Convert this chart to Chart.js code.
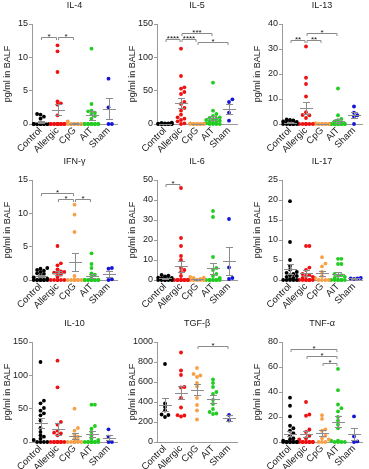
<!DOCTYPE html>
<html><head><meta charset="utf-8">
<script src="https://cdn.jsdelivr.net/npm/chart.js@4"></script>
<style>
html,body{margin:0;padding:0;background:#fff;}
body{width:369px;height:469px;overflow:hidden;position:relative;}
canvas{position:absolute;}
</style></head>
<body>
<script>
// ---------- data ----------
const categories = ['Control', 'Allergic', 'CpG', 'AIT', 'Sham'];
const panelTitles = ['IL-4', 'IL-5', 'IL-13', 'IFN-γ', 'IL-6', 'IL-17', 'IL-10', 'TGF-β', 'TNF-α'];
const yMaxes = [15, 150, 40, 15, 50, 25, 150, 1000, 80];
const ySteps = [5, 50, 10, 5, 10, 5, 50, 200, 20];
const yAxisTitle = 'pg/ml in BALF';

const il4 = [
  [1.5,1.4,1.1,0.8,0,0,0,0,0,0,0,0,0,0],
  [11.8,10.9,7.8,3.4,3.1,2.9,1.3,0,0,0,0,0,0,0,0,0,0,0,0],
  [0.4,0,0,0,0,0,0,0,0,0],
  [11.3,3.0,2.0,1.9,1.7,1.5,1.2,0.8,0,0,0,0,0,0,0,0,0,0],
  [6.8,2.5,0,0]
];
const il5 = [
  [2,1.5,1,0.8,0.5,0.3,0,0,0,0,0,0,0,0],
  [113,72,55,53,48,45,33,30,24,20,14,10,8,6,4,1,0],
  [1,0.5,0,0,0,0,0,0,0,0],
  [62,20,15,12,10,9,8,7,6,5,4,3,2,1,0,0,0,0],
  [37,33,17,5]
];
const il13 = [
  [1.8,1.6,1.4,1.2,1.0,0.8,0.5,0,0,0,0,0,0,0],
  [31,18.5,16,11,4.7,3.6,3.5,2.4,0,0,0,0,0,0],
  [0.3,0,0,0,0,0,0,0,0,0],
  [14.2,3.5,2,1.5,1,0.5,0,0,0,0,0,0,0,0,0,0,0],
  [7,4.5,3.5,3,0]
];
const ifng = [
  [1.8,1.7,1.5,1.4,1.2,1.0,0.9,0.6,0.4,0.2,0,0,0,0,0,0,0,0],
  [5.1,2.5,2.2,1.6,1.3,1.2,1.1,1.0,0.8,0.5,0,0,0,0,0,0],
  [11.3,9.8,7.2,0.6,0,0,0,0,0,0,0],
  [4.0,2.4,1.8,1.0,0.8,0.5,0,0,0,0,0,0,0,0,0,0],
  [1.8,1.7,0.1,0]
];
const il6 = [
  [2.5,2.2,1.8,1.5,1.2,1.0,0.8,0.5,0,0,0,0,0,0],
  [46,21,17,12,10,6,5,4,2,0,0,0,0,0,0,0,0,0],
  [1.5,1.2,1.0,0.6,0,0,0,0,0,0],
  [34.5,31.5,11.5,6,5,3,2,1,0,0,0,0,0,0,0,0],
  [30.5,6.3,1,0.5]
];
const il17 = [
  [19.7,9.5,5,3.5,2.6,2,1.8,1.5,1.2,1,0.8,0.5,0.3,0,0,0,0,0],
  [8.5,8.5,3.1,2.5,1.5,1.2,1,0.8,0.5,0,0,0,0,0,0,0],
  [5.7,4.1,3.4,2.1,1,0.5,0,0,0,0],
  [5.3,5.3,4,4,1.5,1.2,1,0.8,0.5,0,0,0,0,0,0,0],
  [0.5,0.4,0.4,0.3]
];
const il10 = [
  [120,62,58,51,47,43,40,32,21,15,10,8,5,3,0,0,0,0],
  [122,82,30,26,17,14,13,10,0,0,0,0,0,0,0,0],
  [50,21,17,11,8,5,3,0,0,0,0,0,0],
  [56,56,24,20,15,10,5,3,0,0,0,0,0,0,0,0],
  [19,8,0,0]
];
const tgfb = [
  [780,385,350,315,275,270,250],
  [895,715,670,550,545,440,345,268,265,255],
  [740,680,665,650,590,555,440,370,315,225],
  [625,590,550,500,480,420,380,330,300,285,280],
  [270,215]
];
const tnfa = [
  [35.5,29,20.5,13,11,9,7,5,3,2,1,0,0,0,0,0,0,0,0,0],
  [32,22,21,10,8,5,3,2,0,0,0,0,0,0,0,0,0],
  [21.5,18.5,10,9,5,3,2,0,0,0],
  [58.5,41.5,30,27,24.5,20,17,14,11,1,1,0,0,0,0],
  [20.5,4.5,0.5,0]
];

// significance brackets: [fromGroup, toGroup, yValue, label]
const sigIL4  = [[0,1,13,'*'],[1,2,13,'*']];
const sigIL5  = [[0,1,127,'****'],[1,2,127,'****'],[1,3,136,'***'],[2,4,123,'*']];
const sigIL13 = [[0,1,33.6,'**'],[1,2,33.6,'**'],[1,3,36.6,'*']];
const sigIFNG = [[0,2,13.0,'*'],[1,2,12.2,'*'],[2,3,12.2,'*']];
const sigIL6  = [[0,1,48,'*']];
const sigIL17 = [];
const sigIL10 = [];
const sigTGFB = [[2,4,960,'*']];
const sigTNFA = [[0,3,74,'*'],[1,3,69,'*'],[2,3,63.5,'*']];

const panelData = [il4, il5, il13, ifng, il6, il17, il10, tgfb, tnfa];
const panelSig = [sigIL4, sigIL5, sigIL13, sigIFNG, sigIL6, sigIL17, sigIL10, sigTGFB, sigTNFA];

// ---------- styles ----------
const groupColors = ['#000000', '#ee1111', '#f7a048', '#22cc22', '#1414d8'];
const FONT = "'Liberation Sans', Arial, sans-serif";
const TEXT = '#1a1a1a';
const AXIS = '#9a9a9a';
const STAT = '#8c8c8c';

const colLeft = [0, 122, 246], colWidth = [122, 122, 123];
const axisX = [32, 157, 282], plotW = [85, 80, 80];
const padL = [2, 5, 6];
const rowTop = [0, 156, 318];
const CH = 154;

function meanSem(a) {
  const n = a.length;
  const m = a.reduce((s, v) => s + v, 0) / n;
  const sd = Math.sqrt(a.reduce((s, v) => s + (v - m) * (v - m), 0) / (n - 1));
  return [m, sd / Math.sqrt(n)];
}

const statsPlugin = {
  id: 'stats',
  afterDatasetsDraw(chart, args, opts) {
    const ctx = chart.ctx, xs = chart.scales.x, ys = chart.scales.y;
    ctx.save();
    ctx.strokeStyle = STAT; ctx.lineWidth = 1;
    opts.groups.forEach((vals, g) => {
      const [m, se] = meanSem(vals);
      const cx = Math.round(xs.getPixelForValue(g)) + 0.5;
      const ym = Math.round(ys.getPixelForValue(m)) + 0.5;
      const yt = Math.round(ys.getPixelForValue(m + se)) + 0.5;
      const yb = Math.round(ys.getPixelForValue(Math.max(0, m - se))) + 0.5;
      ctx.beginPath();
      ctx.moveTo(cx - 6.5, ym); ctx.lineTo(cx + 6.5, ym);
      ctx.moveTo(cx, yt); ctx.lineTo(cx, yb);
      ctx.moveTo(cx - 3.5, yt); ctx.lineTo(cx + 3.5, yt);
      ctx.moveTo(cx - 3.5, yb); ctx.lineTo(cx + 3.5, yb);
      ctx.stroke();
    });
    // brackets
    ctx.strokeStyle = '#8a8a8a';
    ctx.fillStyle = '#111';
    ctx.font = '8px ' + FONT;
    ctx.textAlign = 'center';
    ctx.textBaseline = 'alphabetic';
    opts.sig.forEach(([a, b, y, lab]) => {
      const x1 = xs.getPixelForValue(a) + 1, x2 = xs.getPixelForValue(b) - 1;
      const py = Math.round(ys.getPixelForValue(y)) + 0.5;
      ctx.beginPath();
      ctx.moveTo(x1, py + 2.5); ctx.lineTo(x1, py); ctx.lineTo(x2, py); ctx.lineTo(x2, py + 2.5);
      ctx.stroke();
      ctx.fillText(lab, (x1 + x2) / 2, py + 1.5);
    });
    ctx.restore();
  }
};

function beeswarm(chart) {
  const xs = chart.scales.x, ys = chart.scales.y;
  const pxPerUnit = xs.getPixelForValue(1) - xs.getPixelForValue(0);
  const s = 3.4;
  chart.data.datasets.forEach((ds, g) => {
    const order = ds.data.map((p, i) => i).sort((i, j) => ds.data[i].y - ds.data[j].y);
    const placed = [];
    order.forEach(i => {
      const py = ys.getPixelForValue(ds.data[i].y);
      const coll = dx => placed.filter(p => Math.abs(p.dx - dx) < s * 0.95 && Math.abs(p.py - py) < s * 0.95).length;
      let best = null;
      for (const dx of [0, s, -s, 2 * s, -2 * s]) { if (coll(dx) === 0) { best = dx; break; } }
      if (best === null) {
        let bc = 1e9;
        for (const dx of [s / 2, -s / 2, 1.5 * s, -1.5 * s, 0, s, -s, 2 * s, -2 * s]) {
          const c = coll(dx); if (c < bc) { bc = c; best = dx; }
        }
      }
      placed.push({dx: best, py});
      ds.data[i].x = g + best / pxPerUnit;
    });
  });
  chart.update('none');
}

panelData.forEach((groups, idx) => {
  const col = idx % 3, row = Math.floor(idx / 3);
  const L = colLeft[col], W = colWidth[col];
  const cv = document.createElement('canvas');
  cv.width = W; cv.height = CH;
  cv.style.left = L + 'px'; cv.style.top = rowTop[row] + 'px';
  cv.style.width = W + 'px'; cv.style.height = CH + 'px';
  document.body.appendChild(cv);
  const axisLocal = axisX[col] - L;
  const padR = W - axisLocal - plotW[col];
  const chart = new Chart(cv, {
    type: 'scatter',
    data: {
      datasets: groups.map((vals, g) => ({
        data: vals.map(v => ({x: g, y: v})),
        backgroundColor: groupColors[g],
        borderWidth: 0,
        pointRadius: 1.9,
        pointHoverRadius: 1.9,
        clip: false
      }))
    },
    options: {
      responsive: false,
      animation: false,
      events: [],
      layout: {padding: {left: padL[col], right: padR, top: 0, bottom: 0}},
      plugins: {
        legend: {display: false},
        tooltip: {enabled: false},
        title: {display: true, text: panelTitles[idx], fullSize: false, color: TEXT,
                font: {family: FONT, size: 9, weight: 'normal'}, padding: {top: 0, bottom: 13.2}},
        stats: {groups: groups, sig: panelSig[idx]}
      },
      scales: {
        x: {
          type: 'linear', min: -0.5, max: 4.5,
          afterBuildTicks: s => { s.ticks = categories.map((c, i) => ({value: i})); },
          ticks: {callback: v => categories[v], minRotation: 45, maxRotation: 45, autoSkip: false,
                  font: {family: FONT, size: 9.5}, color: TEXT, padding: 1},
          grid: {display: false, drawTicks: false},
          border: {display: true, color: AXIS, width: 1},
          afterFit: s => { s.height = 30; }
        },
        y: {
          min: 0, max: yMaxes[idx],
          ticks: {stepSize: ySteps[idx], callback: v => String(v), font: {family: FONT, size: 9}, color: TEXT, padding: 1},
          grid: {drawOnChartArea: false, drawTicks: true, tickLength: 3, color: AXIS},
          border: {display: true, color: AXIS, width: 1},
          title: {display: true, text: yAxisTitle, color: TEXT, font: {family: FONT, size: 9}, padding: 0},
          afterFit: s => { s.width = axisLocal - padL[col]; }
        }
      }
    },
    plugins: [statsPlugin]
  });
  beeswarm(chart);
});
</script>
</body></html>
